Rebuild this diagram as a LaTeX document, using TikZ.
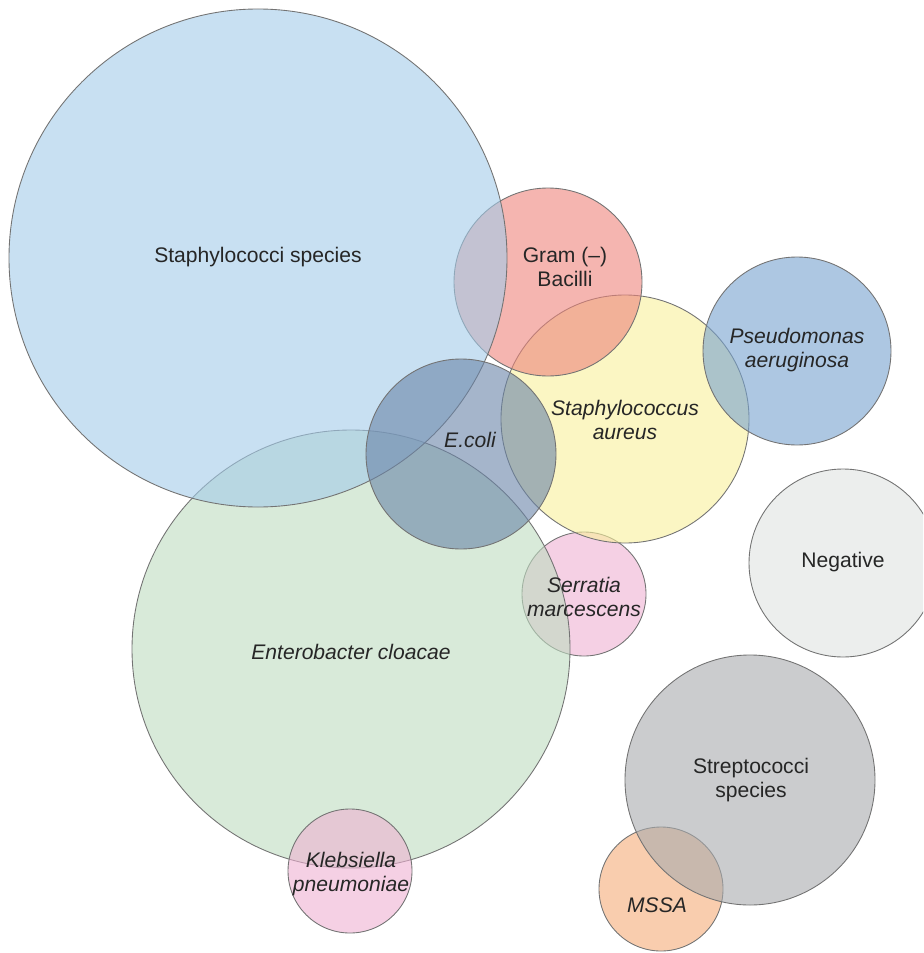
\documentclass[tikz,border=0pt]{standalone}
\usepackage{fontspec}
\setmainfont{Liberation Sans}
\usetikzlibrary{positioning}
\definecolor{cStaph}{RGB}{163,203,233}
\definecolor{cGram}{RGB}{238,132,123}
\definecolor{cAur}{RGB}{248,240,155}
\definecolor{cPseu}{RGB}{118,162,207}
\definecolor{cEcoli}{RGB}{105,132,168}
\definecolor{cEnt}{RGB}{190,220,192}
\definecolor{cPink}{RGB}{238,177,210}
\definecolor{cNeg}{RGB}{223,227,225}
\definecolor{cStrep}{RGB}{168,170,173}
\definecolor{cMSSA}{RGB}{245,172,120}
\tikzset{
  bub/.style={draw=black!55, line width=0.5pt, fill opacity=0.6},
  lbl/.style={text=black!85, align=center, font=\fontsize{12}{13.6}\selectfont},
  itl/.style={lbl, font=\fontsize{12}{13.6}\selectfont\itshape}
}
\begin{document}
\begin{tikzpicture}[x=0.02cm, y=0.02cm, yscale=-1]
\useasboundingbox (0,0) rectangle (923,953);
\clip (0,0) rectangle (923,953);
% bubbles, back to front
\foreach \x/\y/\r/\c in {584/594/62/cPink, 351/649/219/cEnt, 350/871/62/cPink,
  625/419/124/cAur, 548/282/94/cGram, 258/258/249/cStaph, 461/454/95/cEcoli,
  797/351/94/cPseu, 843/563/94/cNeg, 661/889/62/cMSSA, 750/780/125/cStrep}
  \draw[bub, fill=\c] (\x,\y) circle[radius=\r];
% labels
\node[lbl] (staphT) at (258,257) {Staphylococci species};
\node[lbl] (gramT) at (565,267) {Gram (--)\\Bacilli};
\node[itl] (pseuT) at (797,350) {Pseudomonas\\aeruginosa};
\node[itl] (aurT) at (625,420) {Staphylococcus\\aureus};
\node[itl] (ecoliT) at (470,440) {E.coli};
\node[lbl] (negT) at (843,562) {Negative};
\node[itl] (serrT) at (584,597) {Serratia\\marcescens};
\node[itl] (entT) at (351,652) {Enterobacter cloacae};
\node[lbl] (strepT) at (751,780) {Streptococci\\species};
\node[itl] (klebT) at (351,874) {Klebsiella\\pneumoniae};
\node[itl] (mssaT) at (657,905) {MSSA};
\end{tikzpicture}
\end{document}
